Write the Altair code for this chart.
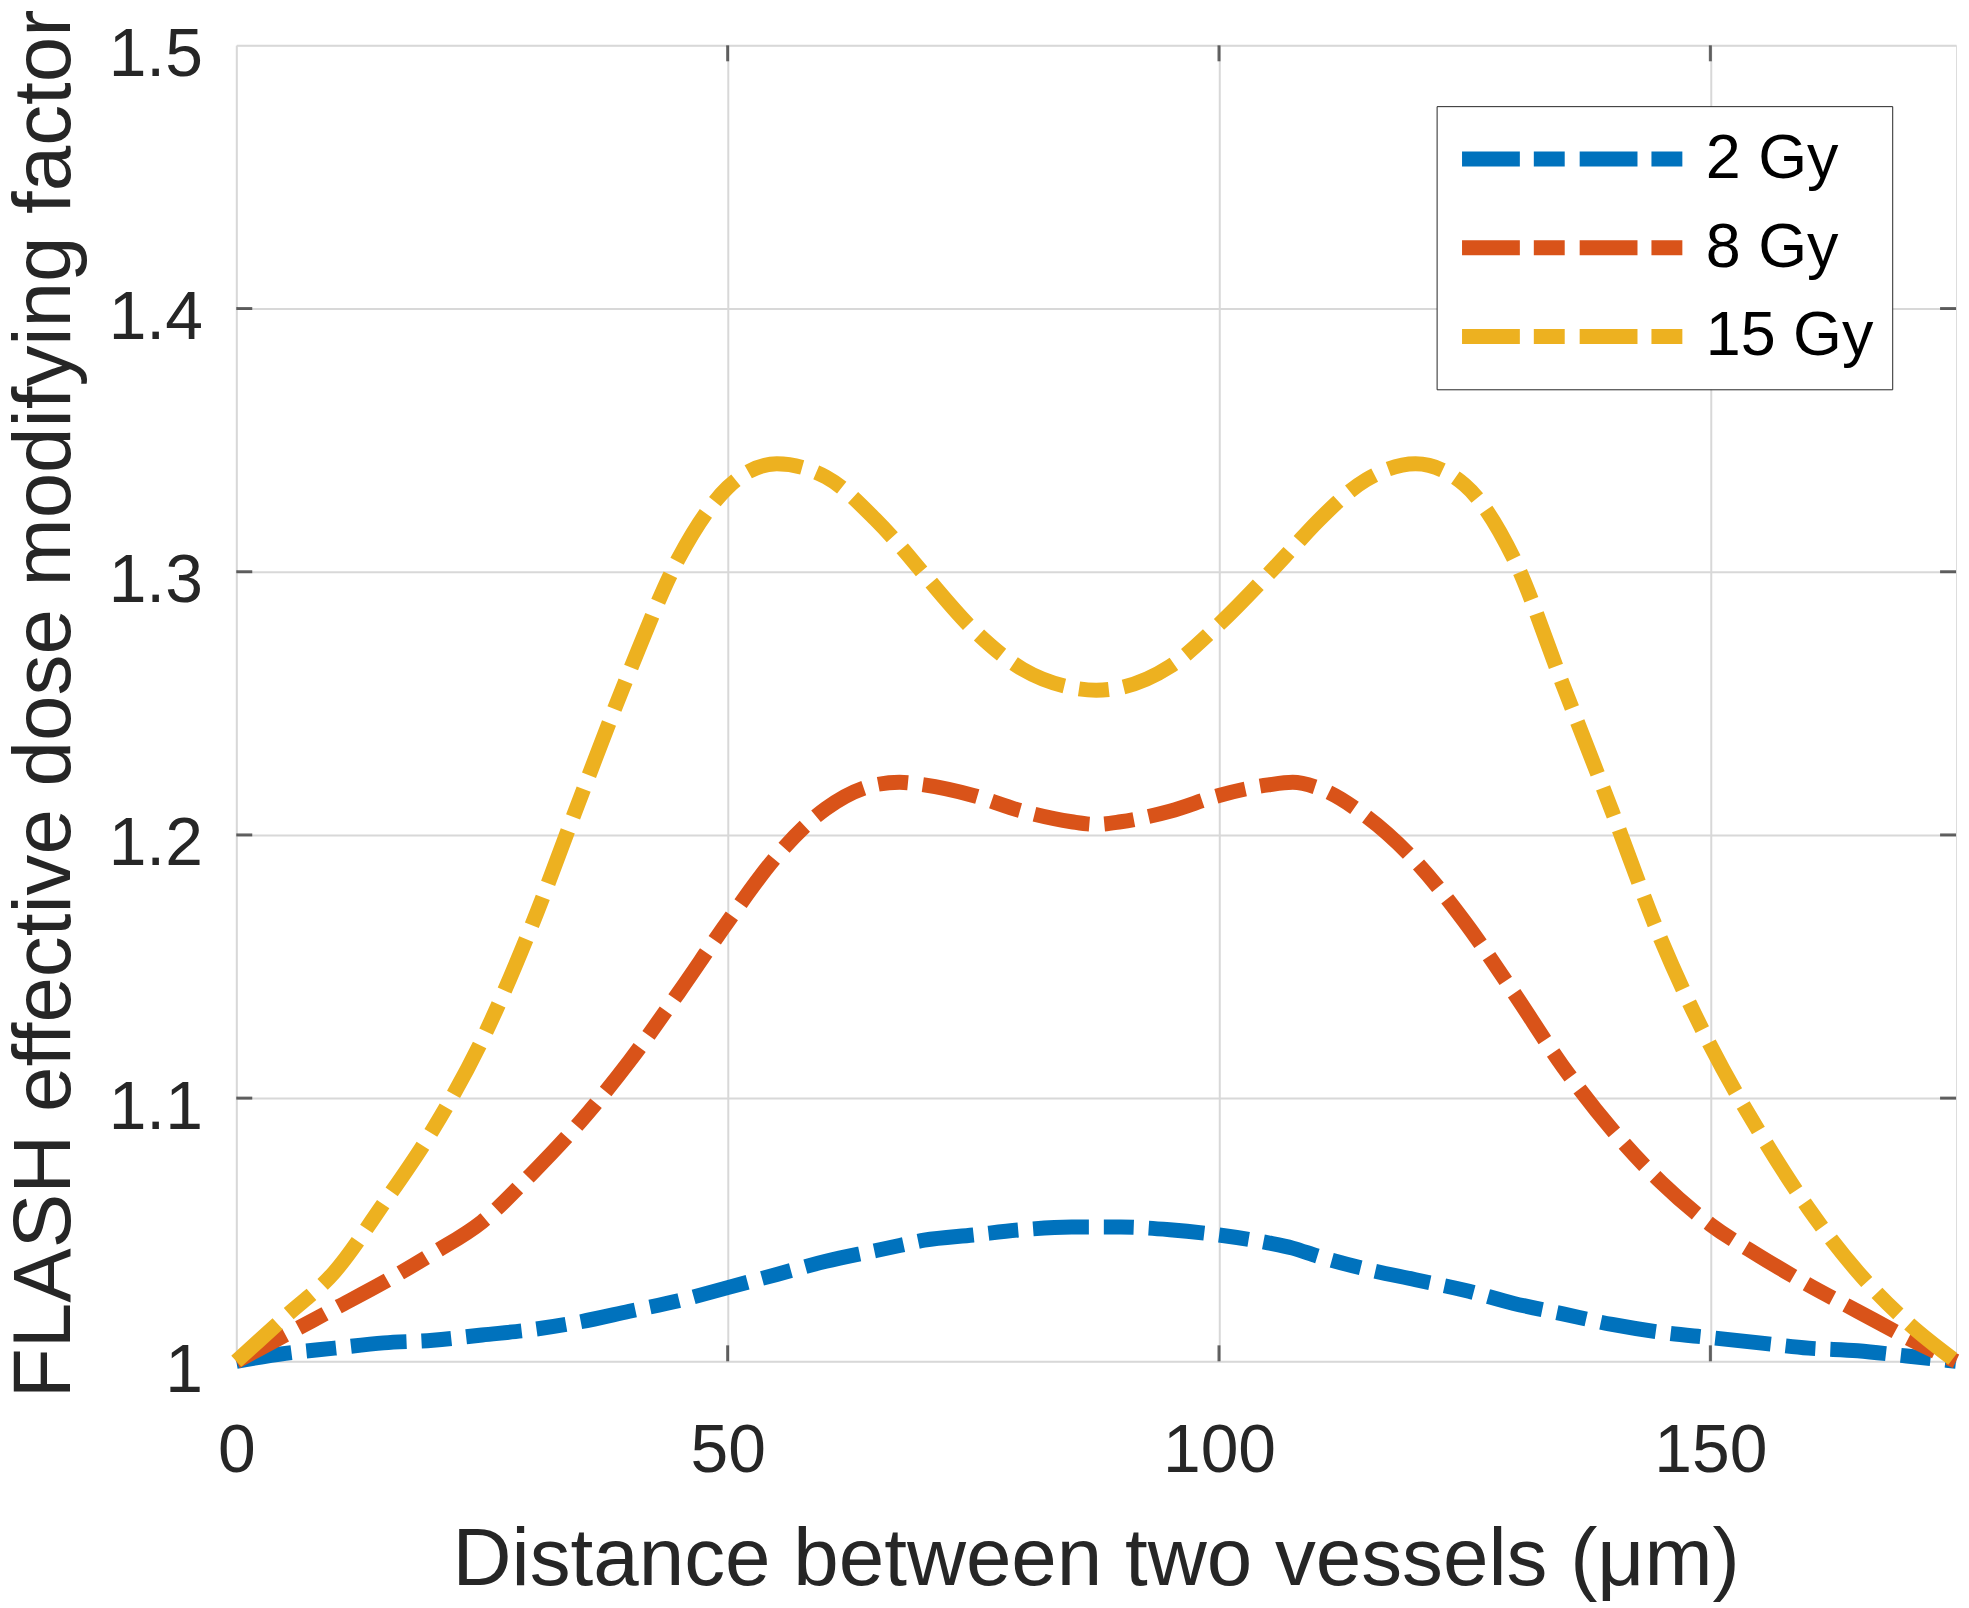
import altair as alt
import pandas as pd

# ---- data ----
X = [0, 5, 10, 15, 20, 25, 30, 35, 40, 45, 50, 55, 60, 65, 67.5, 70, 75, 80, 85, 87.5,
     90, 95, 100, 105, 107.5, 110, 115, 120, 125, 130, 135, 140, 145, 150, 155, 160, 165, 170, 175]

GY2 = [1.000, 1.003, 1.005, 1.007, 1.008, 1.010, 1.012, 1.015, 1.019, 1.023, 1.028, 1.033, 1.038,
       1.042, 1.044, 1.046, 1.048, 1.050, 1.051, 1.051, 1.051, 1.050, 1.048, 1.045, 1.043, 1.040,
       1.035, 1.031, 1.027, 1.022, 1.018, 1.014, 1.011, 1.009, 1.007, 1.005, 1.004, 1.002, 1.000]

GY8 = [1.000, 1.010, 1.020, 1.030, 1.041, 1.053, 1.071, 1.091, 1.114, 1.140, 1.167, 1.192, 1.210,
       1.219, 1.220, 1.219, 1.215, 1.209, 1.205, 1.204, 1.205, 1.209, 1.215, 1.219, 1.220, 1.218,
       1.207, 1.190, 1.167, 1.140, 1.112, 1.088, 1.068, 1.052, 1.040, 1.029, 1.019, 1.009, 1.000]

GY15 = [1.000, 1.017, 1.034, 1.060, 1.088, 1.122, 1.165, 1.214, 1.262, 1.305, 1.332, 1.341, 1.336,
        1.320, 1.310, 1.299, 1.278, 1.263, 1.256, 1.255, 1.256, 1.264, 1.280, 1.299, 1.309, 1.319,
        1.335, 1.341, 1.333, 1.305, 1.257, 1.209, 1.160, 1.120, 1.087, 1.058, 1.034, 1.015, 1.000]

SERIES = ["2 Gy", "8 Gy", "15 Gy"]
COLORS = ["#0072BD", "#D95319", "#EDB120"]

X_TICKS = [0, 50, 100, 150]
Y_TICKS = [1.0, 1.1, 1.2, 1.3, 1.4, 1.5]
X_INNER_TICKS = [50, 100, 150]
Y_INNER_TICKS = [1.1, 1.2, 1.3, 1.4]

X_TITLE = "Distance between two vessels (μm)"
Y_TITLE = "FLASH effective dose modifying factor"

rows = []
for name, vals in zip(SERIES, [GY2, GY8, GY15]):
    for xv, yv in zip(X, vals):
        rows.append({"x": xv, "y": yv, "series": name})
df = pd.DataFrame(rows)

FONT = "Liberation Sans"
INK = "#262626"

xscale = alt.Scale(domain=[0, 175], nice=False, zero=False)
yscale = alt.Scale(domain=[1.0, 1.5], nice=False, zero=False)

lines = alt.Chart(df).mark_line(
    strokeWidth=15, strokeDash=[56, 15, 30, 15], interpolate="monotone"
).encode(
    x=alt.X("x:Q", scale=xscale, title=X_TITLE,
            axis=alt.Axis(values=X_TICKS)),
    y=alt.Y("y:Q", scale=yscale, title=Y_TITLE,
            axis=alt.Axis(values=Y_TICKS, format="~g")),
    color=alt.Color(
        "series:N",
        scale=alt.Scale(domain=SERIES, range=COLORS),
        sort=SERIES,
        legend=alt.Legend(
            title=None, orient="none", legendX=1204, legendY=61,
            symbolType="stroke", symbolSize=223 * 223, symbolStrokeWidth=15,
            symbolDash=[58, 14, 31, 15], clipHeight=70, rowPadding=19,
            labelFontSize=63, labelFont=FONT, labelColor="black", labelOffset=14,
            labelLimit=600, labelExpr="datum.label + ' '",
            padding=18, strokeColor=INK, fillColor="white",
        ),
    ),
    detail="series:N",
)

xt = pd.DataFrame({"t": X_INNER_TICKS})
yt = pd.DataFrame({"t": Y_INNER_TICKS})

tick_bottom = alt.Chart(xt).mark_tick(orient="vertical", size=16, thickness=3, yOffset=-8, color=INK).encode(
    x=alt.X("t:Q", scale=xscale, title=X_TITLE), y=alt.YDatum(1.0, title=Y_TITLE))
tick_top = alt.Chart(xt).mark_tick(orient="vertical", size=16, thickness=3, yOffset=8, color=INK).encode(
    x=alt.X("t:Q", scale=xscale, title=X_TITLE), y=alt.YDatum(1.5, title=Y_TITLE))
tick_left = alt.Chart(yt).mark_tick(orient="horizontal", size=16, thickness=3, xOffset=8, color=INK).encode(
    y=alt.Y("t:Q", scale=yscale, title=Y_TITLE), x=alt.XDatum(0, title=X_TITLE))
tick_right = alt.Chart(yt).mark_tick(orient="horizontal", size=16, thickness=3, xOffset=-8, color=INK).encode(
    y=alt.Y("t:Q", scale=yscale, title=Y_TITLE), x=alt.XDatum(175, title=X_TITLE))

chart = alt.layer(lines, tick_bottom, tick_top, tick_left, tick_right).properties(
    width=1725, height=1320,
    autosize=alt.AutoSizeParams(type="none"),
    padding={"left": 229, "top": 35, "right": 5, "bottom": 245},
).configure_view(
    stroke=INK, strokeWidth=3, fill="white"
).configure(
    background="white"
).configure_axis(
    grid=True, gridColor="#d8d8d8", gridWidth=2,
    domain=False, ticks=False, tickSize=0,
    labelFont=FONT, labelColor=INK, labelFontSize=68,
    titleFont=FONT, titleColor=INK, titleFontSize=82, titleFontWeight="normal",
    labelFlush=False, labelOverlap=False, labelBound=False,
).configure_axisX(
    labelBaseline="alphabetic", labelPadding=111,
    titleBaseline="alphabetic", titleY=224, titleX=862,
).configure_axisY(
    labelBaseline="alphabetic", labelPadding=34, labelOffset=30,
    titleBaseline="alphabetic", titleAngle=270, titleX=-167, titleY=660, titleAlign="center",
)

chart.save("out.html", embed_options={"renderer": "svg", "actions": False})
